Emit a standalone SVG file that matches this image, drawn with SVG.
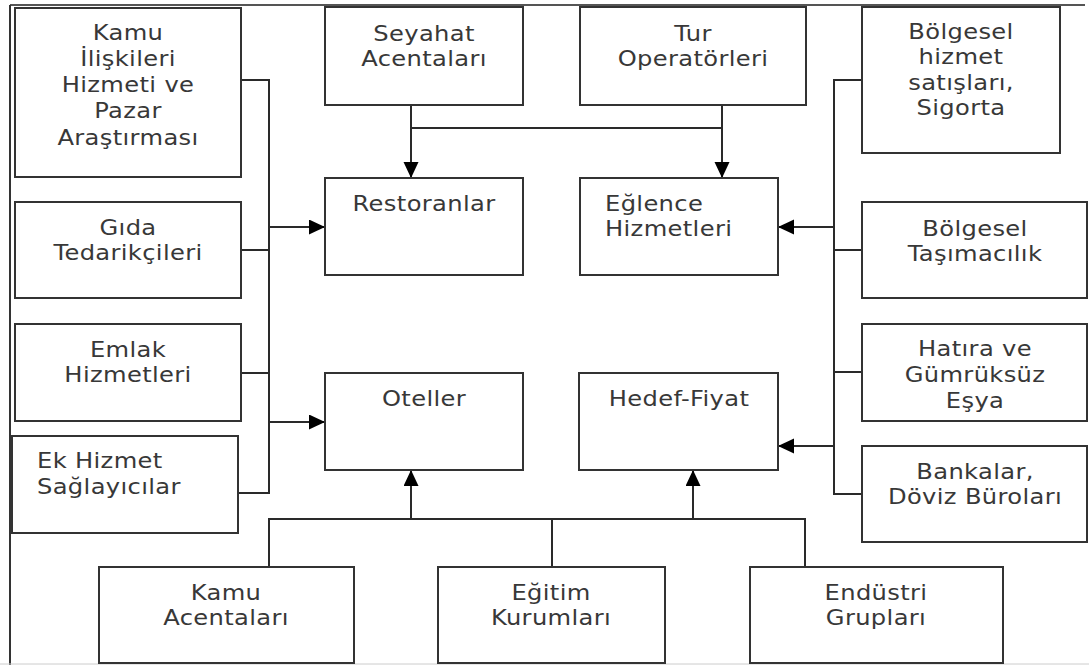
<svg xmlns="http://www.w3.org/2000/svg" width="1089" height="665" viewBox="0 0 1089 665">
<style>
.box{fill:#fff;stroke:#333;stroke-width:2}
.t{font-family:"DejaVu Sans","Verdana",sans-serif;font-size:20.5px;letter-spacing:0.3px;fill:#383838;text-anchor:middle}
.l{text-anchor:start}
.c{fill:none;stroke:#2a2a2a;stroke-width:2}
.a{fill:none;stroke:#2a2a2a;stroke-width:2;marker-end:url(#ah)}
</style>
<defs>
<marker id="ah" markerUnits="userSpaceOnUse" markerWidth="17" markerHeight="16" refX="16" refY="7.5" orient="auto">
<path d="M0,0 L16,7.5 L0,15 Z" fill="#000"/>
</marker>
</defs>
<rect width="1089" height="665" fill="#fff"/>
<g id="frame">
<line x1="10" y1="5" x2="1085" y2="5" stroke="#555" stroke-width="2"/>
<line x1="10" y1="5" x2="10" y2="665" stroke="#333" stroke-width="2"/>
<line x1="0" y1="664" x2="1089" y2="664" stroke="#ccc" stroke-width="1"/>
</g>
<g id="connectors">
<polyline class="c" points="241,80 269,80 269,493 238,493"/>
<line class="c" x1="241" y1="250" x2="269" y2="250"/>
<line class="c" x1="241" y1="373" x2="269" y2="373"/>
<line class="a" x1="269" y1="227" x2="325" y2="227"/>
<line class="a" x1="269" y1="422" x2="325" y2="422"/>
<line class="a" x1="411" y1="105" x2="411" y2="178"/>
<line class="a" x1="722" y1="105" x2="722" y2="178"/>
<line class="c" x1="411" y1="128" x2="722" y2="128"/>
<polyline class="c" points="862,80 834,80 834,494 862,494"/>
<line class="c" x1="834" y1="250" x2="862" y2="250"/>
<line class="c" x1="834" y1="372" x2="862" y2="372"/>
<line class="a" x1="834" y1="227" x2="778" y2="227"/>
<line class="a" x1="834" y1="446" x2="778" y2="446"/>
<polyline class="c" points="269,567 269,519 805,519 805,567"/>
<line class="c" x1="552" y1="519" x2="552" y2="567"/>
<line class="a" x1="411" y1="519" x2="411" y2="470"/>
<line class="a" x1="693" y1="519" x2="693" y2="470"/>
</g>
<g id="kamu-iliskileri">
<rect class="box" x="15" y="8" width="226" height="169"/>
<text class="t" transform="translate(128,40) scale(1.18,1)">Kamu</text>
<text class="t" transform="translate(128,66) scale(1.18,1)">İlişkileri</text>
<text class="t" transform="translate(128,92) scale(1.18,1)">Hizmeti ve</text>
<text class="t" transform="translate(128,118) scale(1.18,1)">Pazar</text>
<text class="t" transform="translate(128,145) scale(1.18,1)">Araştırması</text>
</g>
<g id="gida">
<rect class="box" x="15" y="202" width="226" height="96"/>
<text class="t" transform="translate(128,235) scale(1.18,1)">Gıda</text>
<text class="t" transform="translate(128,260) scale(1.18,1)">Tedarikçileri</text>
</g>
<g id="emlak">
<rect class="box" x="15" y="324" width="226" height="97"/>
<text class="t" transform="translate(128,357) scale(1.18,1)">Emlak</text>
<text class="t" transform="translate(128,382) scale(1.18,1)">Hizmetleri</text>
</g>
<g id="ek-hizmet">
<rect class="box" x="12" y="436" width="226" height="97"/>
<text class="t l" transform="translate(37,468) scale(1.18,1)">Ek Hizmet</text>
<text class="t l" transform="translate(37,494) scale(1.18,1)">Sağlayıcılar</text>
</g>
<g id="seyahat">
<rect class="box" x="325" y="7" width="198" height="98"/>
<text class="t" transform="translate(424,41) scale(1.18,1)">Seyahat</text>
<text class="t" transform="translate(424,66) scale(1.18,1)">Acentaları</text>
</g>
<g id="tur">
<rect class="box" x="580" y="7" width="226" height="98"/>
<text class="t" transform="translate(693,41) scale(1.18,1)">Tur</text>
<text class="t" transform="translate(693,66) scale(1.18,1)">Operatörleri</text>
</g>
<g id="restoranlar">
<rect class="box" x="325" y="178" width="198" height="97"/>
<text class="t" transform="translate(424,211) scale(1.18,1)">Restoranlar</text>
</g>
<g id="eglence">
<rect class="box" x="580" y="178" width="198" height="97"/>
<text class="t l" transform="translate(605,211) scale(1.18,1)">Eğlence</text>
<text class="t l" transform="translate(605,236) scale(1.18,1)">Hizmetleri</text>
</g>
<g id="oteller">
<rect class="box" x="325" y="373" width="198" height="97"/>
<text class="t" transform="translate(424,406) scale(1.18,1)">Oteller</text>
</g>
<g id="hedef-fiyat">
<rect class="box" x="579" y="373" width="199" height="97"/>
<text class="t" transform="translate(679,406) scale(1.18,1)">Hedef-Fiyat</text>
</g>
<g id="bolgesel-hizmet">
<rect class="box" x="862" y="7" width="198" height="146"/>
<text class="t" transform="translate(961,39) scale(1.18,1)">Bölgesel</text>
<text class="t" transform="translate(961,64) scale(1.18,1)">hizmet</text>
<text class="t" transform="translate(961,90) scale(1.18,1)">satışları,</text>
<text class="t" transform="translate(961,115) scale(1.18,1)">Sigorta</text>
</g>
<g id="bolgesel-tasimacilik">
<rect class="box" x="862" y="202" width="225" height="96"/>
<text class="t" transform="translate(975,236) scale(1.18,1)">Bölgesel</text>
<text class="t" transform="translate(975,261) scale(1.18,1)">Taşımacılık</text>
</g>
<g id="hatira">
<rect class="box" x="862" y="324" width="225" height="97"/>
<text class="t" transform="translate(975,356) scale(1.18,1)">Hatıra ve</text>
<text class="t" transform="translate(975,382) scale(1.18,1)">Gümrüksüz</text>
<text class="t" transform="translate(975,408) scale(1.18,1)">Eşya</text>
</g>
<g id="bankalar">
<rect class="box" x="862" y="446" width="225" height="96"/>
<text class="t" transform="translate(975,479) scale(1.18,1)">Bankalar,</text>
<text class="t" transform="translate(975,504) scale(1.18,1)">Döviz Büroları</text>
</g>
<g id="kamu-acentalari">
<rect class="box" x="99" y="567" width="255" height="96"/>
<text class="t" transform="translate(226,600) scale(1.18,1)">Kamu</text>
<text class="t" transform="translate(226,625) scale(1.18,1)">Acentaları</text>
</g>
<g id="egitim">
<rect class="box" x="438" y="567" width="227" height="96"/>
<text class="t" transform="translate(551,600) scale(1.18,1)">Eğitim</text>
<text class="t" transform="translate(551,625) scale(1.18,1)">Kurumları</text>
</g>
<g id="endustri">
<rect class="box" x="750" y="567" width="253" height="96"/>
<text class="t" transform="translate(876,600) scale(1.18,1)">Endüstri</text>
<text class="t" transform="translate(876,625) scale(1.18,1)">Grupları</text>
</g>
</svg>
